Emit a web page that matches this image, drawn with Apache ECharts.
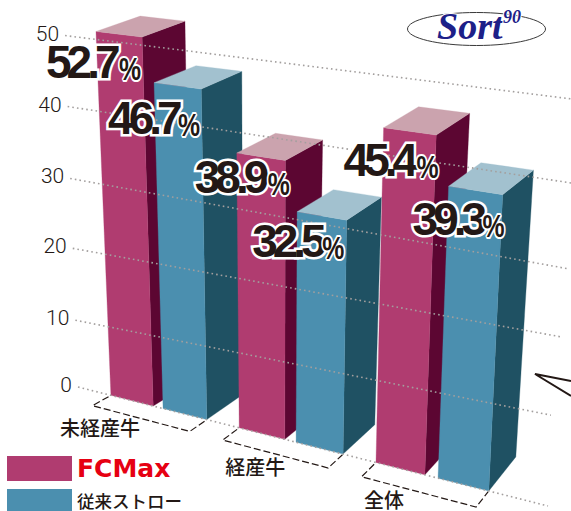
<!DOCTYPE html>
<html>
<head>
<meta charset="utf-8">
<style>
  html, body { margin: 0; padding: 0; background: #fff; }
  #chart { width: 571px; height: 511px; overflow: hidden; }
  /* the big percentage figures are tightly tracked in the original */
  #chart text[fill="#231816"] { letter-spacing: -5px; }
</style>
<script src="https://cdn.jsdelivr.net/npm/echarts@6/dist/echarts.min.js"></script>
</head>
<body>
<div id="chart"></div>
<script>
const categories = ['未経産牛', '経産牛', '全体']
const fcMaxValues = [52.7, 38.9, 45.4]
const strawValues = [46.7, 32.5, 39.3]
const yTicks = [0, 10, 20, 30, 40, 50]

// where each bar starts along the floor line (x axis runs 0..1), and how wide it is
const fcMaxU = [0.07, 0.343, 0.634]
const strawU = [0.181, 0.464, 0.766]
const fcMaxW = [0.09, 0.097, 0.104]
const strawW = [0.093, 0.1, 0.108]
const categoryU = [0.047, 0.377, 0.651]

// offset of the number label from the bar's front top corner
const fcMaxLabel = [[-50, 54], [-42, 47], [-40, 55]]
const strawLabel = [[-46, 58], [-45, 52], [-36, 56]]
const percentGap = [73, 70, 68]

// hand drawn grid lines of the original do not quite converge
const gridEndU = [1, 0.996, 1.005, 1.012, 1.02, 1]
const gridNudgeL = [0, 3.4, 1.8, 2.2, 0.6, 0]
const gridNudgeR = [0, -9, -7, 6, 2, 0]

const TEXT = '#231815'
const FIGURE = '#231816'
const FC = { front: '#b03c70', top: '#cba3ae', side: '#5c0632' }
const ST = { front: '#4b8faf', top: '#a2c1cf', side: '#1f5163' }

// perspective: bend the flat axis position onto the slanted picture plane, d = depth
function project(api, u, v, d) {
  const p = api.coord([u, v])
  let x = p[0] + (-0.35 + 0.83 * u) * v
  let y = p[1] + 119 * u - 1.1 * u * v
  if (d) {
    const h = v / 50
    x += d * (40.15 - 15 * u + 5 * h)
    y += d * (-21 - 15 * u + (6 + 8 * u) * h)
  }
  return [x, y]
}

function poly(points, fill, z2) {
  return { type: 'polygon', z2, shape: { points }, style: { fill, stroke: fill, lineWidth: 0.3 } }
}

function barSeries(name, values, starts, widths, labels, colors, order) {
  return {
    name,
    type: 'custom',
    itemStyle: { color: colors.front },
    data: values.map((v, i) => [starts[i], v, i]),
    renderItem: (params, api) => {
      const u0 = api.value(0)
      const value = api.value(1)
      const i = api.value(2)
      const u1 = u0 + widths[i]
      // the tops read a little under the drawn scale
      const top = value - (1.5 + 1.0 * u0)
      const z = i * 2 + order
      const fl = project(api, u0, top, 0)
      const fr = project(api, u1, top, 0)
      const bl = project(api, u0, top, 1)
      const br = project(api, u1, top, 1)
      const baseL = project(api, u0, 0, 0)
      const baseR = project(api, u1, 0, 0)
      const baseB = project(api, u1, 0, 1)
      const lx = fl[0] + labels[i][0]
      const ly = fl[1] + labels[i][1]
      return {
        type: 'group',
        children: [
          poly([fr, br, baseB, baseR], colors.side, z),
          poly([baseL, baseR, fr, fl], colors.front, z),
          poly([fl, fr, br, bl], colors.top, z),
          {
            type: 'text', z2: 200, x: lx, y: ly,
            style: {
              text: value.toFixed(1), fill: FIGURE, stroke: '#fff', lineWidth: 5,
              font: 'bold 46px "Liberation Sans"', align: 'left', verticalAlign: 'bottom'
            }
          },
          {
            type: 'text', z2: 200, x: lx + percentGap[order], y: ly, scaleX: 0.8,
            style: {
              text: '%', fill: TEXT, stroke: '#fff', lineWidth: 4,
              font: 'bold 31px "Liberation Sans"', align: 'left', verticalAlign: 'bottom'
            }
          }
        ]
      }
    }
  }
}

const gridSeries = {
  name: 'grid',
  type: 'custom',
  data: yTicks.map((v, i) => [0, v, i]),
  renderItem: (params, api) => {
    const v = api.value(1)
    const i = api.value(2)
    const a = project(api, 0.00018 * v, v, 0)
    const b = project(api, gridEndU[i], v, 0)
    return {
      type: 'group',
      children: [
        {
          type: 'line', z2: 100,
          shape: { x1: a[0], y1: a[1] + gridNudgeL[i], x2: b[0], y2: b[1] + gridNudgeR[i] },
          style: { stroke: '#a39f9e', lineWidth: 1.6, lineDash: [1.6, 3.1] }
        },
        {
          type: 'text', z2: 100, x: a[0] - 6, y: a[1] + gridNudgeL[i] - 2,
          style: {
            text: String(v), fill: TEXT, font: '300 21px Roboto',
            align: 'right', verticalAlign: 'middle'
          }
        }
      ]
    }
  }
}

// dashed brackets under each group, plus the group name
const bracketSeries = {
  name: 'bracket',
  type: 'custom',
  data: categories.map((c, i) => [fcMaxU[i], 0, i]),
  renderItem: (params, api) => {
    const i = api.value(2)
    const u0 = fcMaxU[i]
    const u1 = strawU[i] + strawW[i]
    const d = -0.47
    const points = [
      project(api, u0, 0, -0.06),
      project(api, u0, 0, d),
      project(api, u1, 0, d),
      project(api, u1, 0, -0.02)
    ]
    const lp = project(api, categoryU[i], 0, 0)
    return {
      type: 'group',
      children: [
        {
          type: 'polyline', z2: 1, shape: { points },
          style: { stroke: '#231815', fill: null, lineWidth: 1.2, lineDash: [7, 3] }
        },
        {
          type: 'text', z2: 1, x: lp[0], y: lp[1] + 35,
          style: {
            text: categories[i], fill: TEXT, font: '500 20px "Noto Sans CJK JP"',
            align: 'center', verticalAlign: 'middle'
          }
        }
      ]
    }
  }
}

const legendBase = { left: 7, padding: 0, itemWidth: 65, icon: 'rect', selectedMode: false }

const chart = echarts.init(document.getElementById('chart'), null, { renderer: 'svg' })
chart.setOption({
  animation: false,
  backgroundColor: '#fff',
  grid: { left: 78, top: 35, width: 470, height: 352 },
  xAxis: { type: 'value', min: 0, max: 1, show: false },
  yAxis: { type: 'value', min: 0, max: 50, interval: 10, show: false },
  legend: [
    {
      ...legendBase, top: 456, itemHeight: 25,
      data: [{ name: 'FCMax', textStyle: { color: '#e60012', fontFamily: 'DejaVu Sans', fontWeight: 'bold', fontSize: 25 } }]
    },
    {
      ...legendBase, top: 489, itemHeight: 22,
      data: [{ name: '従来ストロー', textStyle: { color: TEXT, fontFamily: 'Noto Sans CJK JP', fontWeight: 500, fontSize: 17.5 } }]
    }
  ],
  graphic: [
    {
      type: 'ellipse', left: 407, top: 12,
      shape: { cx: 69, cy: 16.5, rx: 69, ry: 16.5 },
      style: { fill: '#fff', stroke: '#3a3a3a', lineWidth: 1 }
    },
    {
      type: 'text', x: 437, y: 45,
      style: {
        text: 'Sort', fill: '#1d2088', stroke: '#fff', lineWidth: 2,
        font: 'italic bold 38px "Liberation Serif"', verticalAlign: 'bottom'
      }
    },
    {
      type: 'text', x: 503, y: 26,
      style: {
        text: '90', fill: '#1d2088', stroke: '#fff', lineWidth: 2,
        font: 'italic bold 18px "Liberation Serif"', verticalAlign: 'bottom'
      }
    },
    {
      type: 'polyline',
      shape: { points: [[571, 381], [535, 374], [571, 396]] },
      style: { stroke: TEXT, fill: null, lineWidth: 2 }
    }
  ],
  series: [
    bracketSeries,
    barSeries('FCMax', fcMaxValues, fcMaxU, fcMaxW, fcMaxLabel, FC, 0),
    barSeries('従来ストロー', strawValues, strawU, strawW, strawLabel, ST, 1),
    gridSeries
  ]
})
</script>
</body>
</html>
